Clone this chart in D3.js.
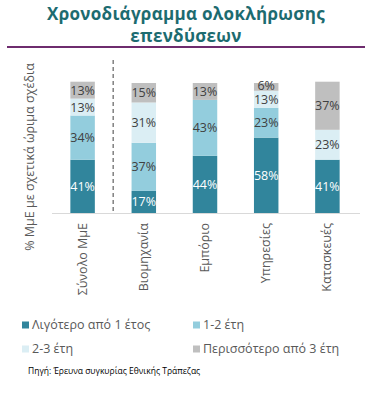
<!DOCTYPE html>
<html><head><meta charset="utf-8">
<script src="https://cdn.jsdelivr.net/npm/d3@7"></script>
<style>body{margin:0;background:#fff}svg{display:block}</style>
</head><body>
<svg id="c" width="365" height="402"></svg>
<script>
const categories = ["Σύνολο ΜμΕ","Βιομηχανία","Εμπόριο","Υπηρεσίες","Κατασκευές"];
const seriesNames = ["Λιγότερο από 1 έτος","1-2 έτη","2-3 έτη","Περισσότερο από 3 έτη"];
const lessThan1 = [41,17,44,58,41];
const oneToTwo = [34,37,43,23,0];
const twoToThree = [13,31,0,13,23];
const moreThan3 = [13,15,13,6,37];
const colors = ["#31859c","#93cddd","#dbeef4","#bfbfbf"];
const labelColors = ["#ffffff","#404040","#404040","#404040"];

const series = [lessThan1, oneToTwo, twoToThree, moreThan3];
const svg = d3.select("#c");
const font = "'Open Sans', 'Noto Sans', sans-serif";

// Title
const title = svg.append("g").attr("font-family", font).attr("font-weight","bold")
  .attr("font-size", 17).attr("fill","#1c6b70").attr("text-anchor","middle");
title.append("text").attr("x",186).attr("y",20).attr("letter-spacing",0.3).text("Χρονοδιάγραμμα ολοκλήρωσης");
title.append("text").attr("x",186).attr("y",42).attr("letter-spacing",0.3).text("επενδύσεων");
svg.append("line").attr("x1",7).attr("x2",365).attr("y1",47).attr("y2",47)
  .attr("stroke","#6e2c6e").attr("stroke-width",2);

const x = d3.scaleBand().domain(categories).range([52,358]).paddingInner(0.6).paddingOuter(0.3);
const y = d3.scaleLinear().domain([0,100]).range([213,83]);

const data = categories.map((c,i)=>{ const o={cat:c}; seriesNames.forEach((s,j)=>o[s]=series[j][i]); return o;});
const stacked = d3.stack().keys(seriesNames)(data);

const g = svg.append("g");
stacked.forEach((layer,j)=>{
  g.selectAll(null).data(layer.filter(d=>d[1]-d[0]>0)).enter().append("rect")
    .attr("x",d=>x(d.data.cat)).attr("width",x.bandwidth())
    .attr("y",d=>y(d[1])).attr("height",d=>y(d[0])-y(d[1]))
    .attr("fill",colors[j]);
  g.selectAll(null).data(layer.filter(d=>d[1]-d[0]>0)).enter().append("text")
    .attr("x",d=>x(d.data.cat)+x.bandwidth()/2)
    .attr("y",d=>(y(d[0])+y(d[1]))/2+4.5-((d[1]-d[0])<8?1.8:0))
    .attr("text-anchor","middle").attr("font-family",font).attr("font-size",12.5)
    .attr("fill",labelColors[j])
    .text(d=>(d[1]-d[0])+"%");
});

// baseline axis
svg.append("line").attr("x1",52).attr("x2",360).attr("y1",213.5).attr("y2",213.5)
  .attr("stroke","#d9d9d9").attr("stroke-width",1);

// dashed separator
const sepX = (x(categories[0])+x.bandwidth()+x(categories[1]))/2;
svg.append("line").attr("x1",sepX).attr("x2",sepX).attr("y1",60).attr("y2",213)
  .attr("stroke","#808080").attr("stroke-width",1.5).attr("stroke-dasharray","4,3");

// category labels
const xAxis = d3.axisBottom(x).tickSize(0).tickPadding(0);
const xa = svg.append("g").attr("transform","translate(0,213)").call(xAxis);
xa.select(".domain").remove();
xa.selectAll("text").attr("font-family",font).attr("font-size",12.5).attr("fill","#595959")
  .attr("text-anchor","end").attr("transform","translate(4,10) rotate(-90)").attr("dy",0).attr("x",0).attr("y",0);

// y title
svg.append("text").attr("transform","translate(34,157) rotate(-90)")
  .attr("text-anchor","middle").attr("font-family",font).attr("font-size",12.5).attr("fill","#595959")
  .text("% ΜμΕ με σχετικά ώριμα σχέδια");

// legend
const legPos = [[22,329],[193,329],[22,353],[193,353]];
seriesNames.forEach((s,j)=>{
  const [lx,ly] = legPos[j];
  svg.append("rect").attr("x",lx).attr("y",ly-7.5).attr("width",7).attr("height",7).attr("fill",colors[j]);
  svg.append("text").attr("x",lx+10).attr("y",ly).attr("font-family",font).attr("font-size",12.5)
    .attr("fill","#595959").text(s);
});

svg.append("text").attr("x",28).attr("y",374).attr("font-family",font).attr("font-size",8.5)
  .attr("fill","#000").text("Πηγή: Έρευνα συγκυρίας Εθνικής Τράπεζας");
</script>
</body></html>
